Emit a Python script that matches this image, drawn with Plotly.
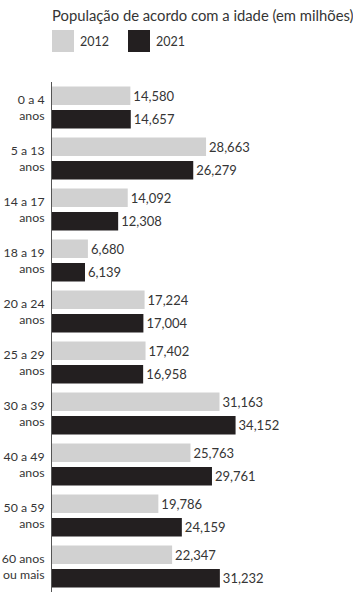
import plotly.graph_objects as go

categories = ["0 a 4<br>anos", "5 a 13<br>anos", "14 a 17<br>anos", "18 a 19<br>anos",
              "20 a 24<br>anos", "25 a 29<br>anos", "30 a 39<br>anos", "40 a 49<br>anos",
              "50 a 59<br>anos", "60 anos<br>ou mais"]
values_2012 = [14.580, 28.663, 14.092, 6.680, 17.224, 17.402, 31.163, 25.763, 19.786, 22.347]
values_2021 = [14.657, 26.279, 12.308, 6.139, 17.004, 16.958, 34.152, 29.761, 24.159, 31.232]
labels_2012 = ["14,580", "28,663", "14,092", "6,680", "17,224", "17,402", "31,163", "25,763", "19,786", "22,347"]
labels_2021 = ["14,657", "26,279", "12,308", "6,139", "17,004", "16,958", "34,152", "29,761", "24,159", "31,232"]

FONT = "Lato"
TXT = "#353535"

fig = go.Figure()
fig.add_trace(go.Bar(y=categories, x=values_2012, orientation="h", name="2012",
                     marker=dict(color="#d1d1d1", line=dict(width=0)),
                     text=labels_2012, textposition="outside", cliponaxis=False,
                     textfont=dict(family=FONT, size=13, color=TXT)))
fig.add_trace(go.Bar(y=categories, x=values_2021, orientation="h", name="2021",
                     marker=dict(color="#231f20", line=dict(width=0)),
                     text=labels_2021, textposition="outside", cliponaxis=False,
                     textfont=dict(family=FONT, size=13, color=TXT)))

fig.update_layout(
    width=353, height=594,
    margin=dict(l=52, r=0, t=82, b=2),
    paper_bgcolor="white", plot_bgcolor="white",
    barmode="group", bargap=0.08, bargroupgap=0.21,
    showlegend=False,
    uniformtext=dict(minsize=13, mode="show"),
    font=dict(family=FONT, color=TXT),
    xaxis=dict(range=[0, 56], visible=False, fixedrange=True),
    yaxis=dict(autorange=False, range=[9.5, -0.5], showline=True, linecolor="#555555", linewidth=1,
               showgrid=False, ticks="", ticklabelstandoff=4, automargin=False,
               tickfont=dict(family=FONT, size=12.3, color=TXT)),
)

fig.add_annotation(xref="paper", yref="paper", x=0, y=1, xshift=-2, yshift=78, xanchor="left", yanchor="top",
                   text="População de acordo com a idade (em milhões)", showarrow=False,
                   font=dict(family=FONT, size=14.8, color=TXT))
# legend drawn manually
for x0, color, label in [(0, "#d1d1d1", "2012"), (76, "#231f20", "2021")]:
    fig.add_shape(type="rect", xref="x domain", yref="paper", x0=0, x1=0, y0=1, y1=1,
                  xsizemode="pixel", ysizemode="pixel", xanchor=0, yanchor=1,
                  fillcolor=color, line=dict(width=0))
    fig.layout.shapes[-1].update(x0=x0, x1=x0 + 22, y0=30, y1=52)
    fig.add_annotation(xref="paper", yref="paper", x=0, y=1, xshift=x0 + 26, yshift=41,
                       xanchor="left", yanchor="middle", text=label, showarrow=False,
                       font=dict(family=FONT, size=12.5, color=TXT))

fig.write_html("out.html")
